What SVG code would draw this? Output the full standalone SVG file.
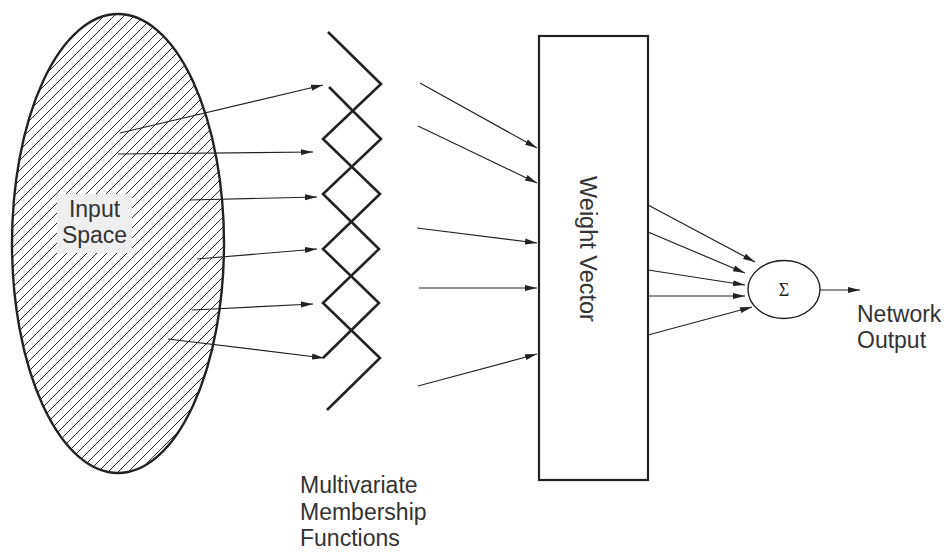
<svg xmlns="http://www.w3.org/2000/svg" width="947" height="553" viewBox="0 0 947 553">
<style>
.lbl{font-family:"Liberation Sans",Arial,Helvetica,sans-serif;fill:#333;}
.arr{stroke:#222;stroke-width:1.2;fill:none;marker-end:url(#ah);}
.thick{stroke:#222;stroke-width:2.6;fill:none;stroke-linejoin:miter;}
</style>
<defs>
<pattern id="hatch" width="10" height="10" patternUnits="userSpaceOnUse">
<path d="M-2,2 L2,-2 M0,10 L10,0 M8,12 L12,8" stroke="#222" stroke-width="1"/>
</pattern>
<marker id="ah" viewBox="0 0 12 8" refX="12" refY="4" markerWidth="12" markerHeight="8" markerUnits="userSpaceOnUse" orient="auto">
<path d="M0,1 L12,4 L0,7 z" fill="#222"/>
</marker>
</defs>
<rect width="947" height="553" fill="#fff"/>

<g id="input-space">
<ellipse cx="118" cy="243.5" rx="106" ry="229.5" fill="url(#hatch)" stroke="#222" stroke-width="2.4"/>
<rect x="57" y="194" width="75" height="59" fill="#efefef"/>
<text class="lbl" x="94.5" y="217" font-size="23" text-anchor="middle">Input</text>
<text class="lbl" x="94.5" y="243" font-size="23" text-anchor="middle">Space</text>
</g>

<g id="membership-functions">
<path class="thick" d="M328,32 L381,84 L323,139 L380,194 L323,249 L379,303 L323,358"/>
<path class="thick" d="M329,87 L381,139 L323,194 L379,249 L323,303 L380,358 L327,410"/>
<text class="lbl" x="300" y="493" font-size="23">Multivariate</text>
<text class="lbl" x="300" y="520" font-size="23">Membership</text>
<text class="lbl" x="300" y="546" font-size="23">Functions</text>
</g>

<g id="weight-vector">
<rect x="539" y="36" width="109" height="444" fill="#fff" stroke="#222" stroke-width="2.2"/>
<text class="lbl" transform="translate(580,249) rotate(90)" font-size="23.5" text-anchor="middle">Weight Vector</text>
</g>

<g id="sum">
<ellipse cx="784" cy="289.5" rx="36" ry="29" fill="#fff" stroke="#222" stroke-width="1.4"/>
<text x="784" y="295.5" font-family="'Liberation Serif','Times New Roman',serif" font-size="18" fill="#222" text-anchor="middle">Σ</text>
</g>

<g id="network-output">
<text class="lbl" x="857" y="322" font-size="23">Network</text>
<text class="lbl" x="857" y="348" font-size="23">Output</text>
</g>

<g id="connectors">
<line class="arr" x1="120" y1="133" x2="323" y2="85"/>
<line class="arr" x1="118" y1="154" x2="313" y2="152"/>
<line class="arr" x1="190" y1="200" x2="317" y2="197"/>
<line class="arr" x1="197" y1="259" x2="317" y2="249"/>
<line class="arr" x1="192" y1="310" x2="313" y2="304"/>
<line class="arr" x1="168" y1="339" x2="324" y2="358"/>

<line class="arr" x1="420" y1="83" x2="537" y2="148"/>
<line class="arr" x1="418" y1="126" x2="537" y2="183"/>
<line class="arr" x1="417" y1="228" x2="537" y2="243"/>
<line class="arr" x1="419" y1="288" x2="537" y2="288"/>
<line class="arr" x1="418" y1="386" x2="537" y2="354"/>

<line class="arr" x1="648" y1="205" x2="755" y2="262"/>
<line class="arr" x1="648" y1="232" x2="745" y2="273"/>
<line class="arr" x1="648" y1="270" x2="745" y2="285"/>
<line class="arr" x1="648" y1="296" x2="745" y2="296"/>
<line class="arr" x1="648" y1="335" x2="752" y2="307"/>

<line class="arr" x1="820" y1="290" x2="860" y2="290"/>
</g>
</svg>
